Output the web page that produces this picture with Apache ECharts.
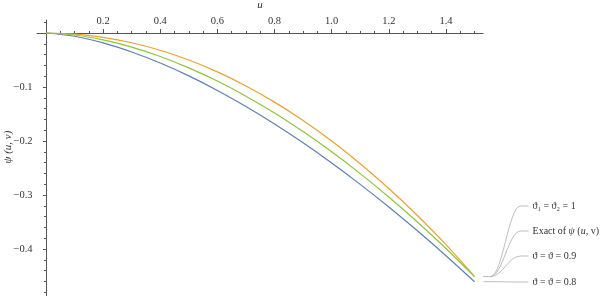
<!DOCTYPE html>
<html>
<head>
<meta charset="utf-8">
<script src="https://cdn.jsdelivr.net/npm/echarts@6/dist/echarts.min.js"></script>
<style>html,body{margin:0;padding:0;background:#fff}#c{width:600px;height:296px}</style>
</head>
<body>
<div id="c"></div>
<script>
// ---- data ----
var uValues = [0, 0.1, 0.2, 0.3, 0.4, 0.5, 0.6, 0.7, 0.8, 0.9, 1.0, 1.1, 1.2, 1.3, 1.4, 1.5];
var psiTheta08 = [0, -0.006, -0.0183, -0.0351, -0.0556, -0.0794, -0.1063, -0.136, -0.1684, -0.2033, -0.2407, -0.2803, -0.3222, -0.3663, -0.4124, -0.4605];
var psiTheta09 = [0, -0.0037, -0.0128, -0.0261, -0.0435, -0.0645, -0.089, -0.117, -0.148, -0.1826, -0.22, -0.2604, -0.3038, -0.350, -0.399, -0.451];
var psiTheta1 = [0, -0.002, -0.008, -0.018, -0.032, -0.05, -0.072, -0.098, -0.128, -0.162, -0.2, -0.242, -0.288, -0.338, -0.392, -0.451];
var xMajorTicks = [0.2, 0.4, 0.6, 0.8, 1.0, 1.2, 1.4];
var xMinorTicks = [0.05, 0.1, 0.15, 0.25, 0.3, 0.35, 0.45, 0.5, 0.55, 0.65, 0.7, 0.75, 0.85, 0.9, 0.95, 1.05, 1.1, 1.15, 1.25, 1.3, 1.35, 1.45, 1.5];
var yMajorTicks = [-0.4, -0.3, -0.2, -0.1, 0];
var yMinorTicks = [-0.48, -0.46, -0.44, -0.42, -0.38, -0.36, -0.34, -0.32, -0.28, -0.26, -0.24, -0.22, -0.18, -0.16, -0.14, -0.12, -0.08, -0.06, -0.04, -0.02, 0.02];
var legendLabels = ['\u03D1\u2081 = \u03D1\u2082 = 1', 'Exact of {i|\u03C8} ({i|u}, v)', '\u03D1 = \u03D1 = 0.9', '\u03D1 = \u03D1 = 0.8'];

function zip(xs, ys) { return xs.map(function (x, i) { return [x, ys[i]]; }); }

var serif = "'Liberation Serif','DejaVu Serif',serif";
var axisColor = '#555';
var chart = echarts.init(document.getElementById('c'), null, {renderer: 'canvas'});

function fmt(v) {
  if (Math.abs(v) < 1e-9) return '';
  return (v < 0 ? '\u2212' : '') + Math.abs(v).toFixed(1);
}

var xCommon = {
  type: 'value', min: -0.031, max: 1.53, position: 'top',
  splitLine: {show: false}
};
var yCommon = {
  type: 'value', min: -0.487, max: 0.024, position: 'left',
  splitLine: {show: false}
};

chart.setOption({
  animation: false,
  grid: {left: 37.1, top: 20.04, width: 446, height: 275.96, containLabel: false, outerBoundsMode: 'none'},
  xAxis: [
    Object.assign({}, xCommon, {
      name: 'u', nameLocation: 'middle', nameGap: 8,
      nameTextStyle: {fontFamily: serif, fontStyle: 'italic', fontSize: 11, color: '#333'},
      axisLine: {onZero: true, lineStyle: {color: axisColor, width: 1}},
      axisTick: {show: true, inside: false, length: 4, customValues: xMajorTicks, lineStyle: {color: axisColor}},
      axisLabel: {show: true, customValues: xMajorTicks, margin: -6.5, formatter: fmt,
        fontFamily: serif, fontSize: 10.5, color: '#333'}
    }),
    Object.assign({}, xCommon, {
      axisLine: {show: false, onZero: true, onZeroAxisIndex: 0},
      axisTick: {show: true, inside: false, length: 2, customValues: xMinorTicks, lineStyle: {color: axisColor}},
      axisLabel: {show: false}
    })
  ],
  yAxis: [
    Object.assign({}, yCommon, {
      axisLine: {onZero: true, lineStyle: {color: axisColor, width: 1}},
      axisTick: {show: true, inside: false, length: 3, customValues: yMajorTicks, lineStyle: {color: axisColor}},
      axisLabel: {show: true, customValues: yMajorTicks, margin: 4.5, formatter: fmt,
        fontFamily: serif, fontSize: 10.5, color: '#333'}
    }),
    Object.assign({}, yCommon, {
      axisLine: {show: false, onZero: true, onZeroAxisIndex: 0},
      axisTick: {show: true, inside: false, length: 2, customValues: yMinorTicks, lineStyle: {color: axisColor}},
      axisLabel: {show: false}
    })
  ],
  series: [
    {name: 'theta08', type: 'line', data: zip(uValues, psiTheta08), smooth: 0.3, showSymbol: false,
      lineStyle: {color: '#5E81B5', width: 1.2}, xAxisIndex: 0, yAxisIndex: 0, z: 3},
    {name: 'theta1', type: 'line', data: zip(uValues, psiTheta1), smooth: 0.3, showSymbol: false,
      lineStyle: {color: '#E8A232', width: 1.2}, xAxisIndex: 0, yAxisIndex: 0, z: 3},
    {name: 'theta09', type: 'line', data: zip(uValues, psiTheta09), smooth: 0.3, showSymbol: false,
      lineStyle: {color: '#8FC43F', width: 1.2}, xAxisIndex: 0, yAxisIndex: 0, z: 3}
  ]
});

// ---- callout labels anchored to the curve ends ----
var last = uValues.length - 1;
function px(ys) { return chart.convertToPixel({xAxisIndex: 0, yAxisIndex: 0}, [uValues[last], ys[last]]); }
var anchors = [px(psiTheta1), px(psiTheta1), px(psiTheta09), px(psiTheta08)];
var labelY = [206, 231, 256, 282];
var labelX = anchors[0][0] + 58;
var graphics = [];
var lineStyle = {fill: null, stroke: '#bdbdbd', lineWidth: 1};
anchors.forEach(function (a, i) {
  var ax = a[0], ay = a[1], ly = labelY[i];
  var x0 = ax + 9, x1 = ax + 16, x2 = labelX - 12, x3 = labelX - 4;
  graphics.push({type: 'line', shape: {x1: x0, y1: ay, x2: x1, y2: ay}, style: lineStyle, z: 5});
  graphics.push({type: 'bezierCurve', shape: {x1: x1, y1: ay, cpx1: x1 + 12, cpy1: ay, cpx2: x2 - 12, cpy2: ly, x2: x2, y2: ly}, style: lineStyle, z: 5});
  graphics.push({type: 'line', shape: {x1: x2, y1: ly, x2: x3, y2: ly}, style: lineStyle, z: 5});
  graphics.push({type: 'text', x: labelX, y: ly, style: {
    text: legendLabels[i], fill: '#333', font: '10px ' + serif, verticalAlign: 'middle', align: 'left',
    rich: {i: {fontStyle: 'italic', fontFamily: serif, fontSize: 10, fill: '#333'}}
  }, z: 5});
});
graphics.push({type: 'text', x: 8, y: 147, rotation: Math.PI / 2, style: {
  text: '\u03C8 (u, v)', fill: '#333', font: 'italic 11px ' + serif, align: 'center', verticalAlign: 'middle'
}});
chart.setOption({graphic: graphics});
</script>
</body>
</html>
